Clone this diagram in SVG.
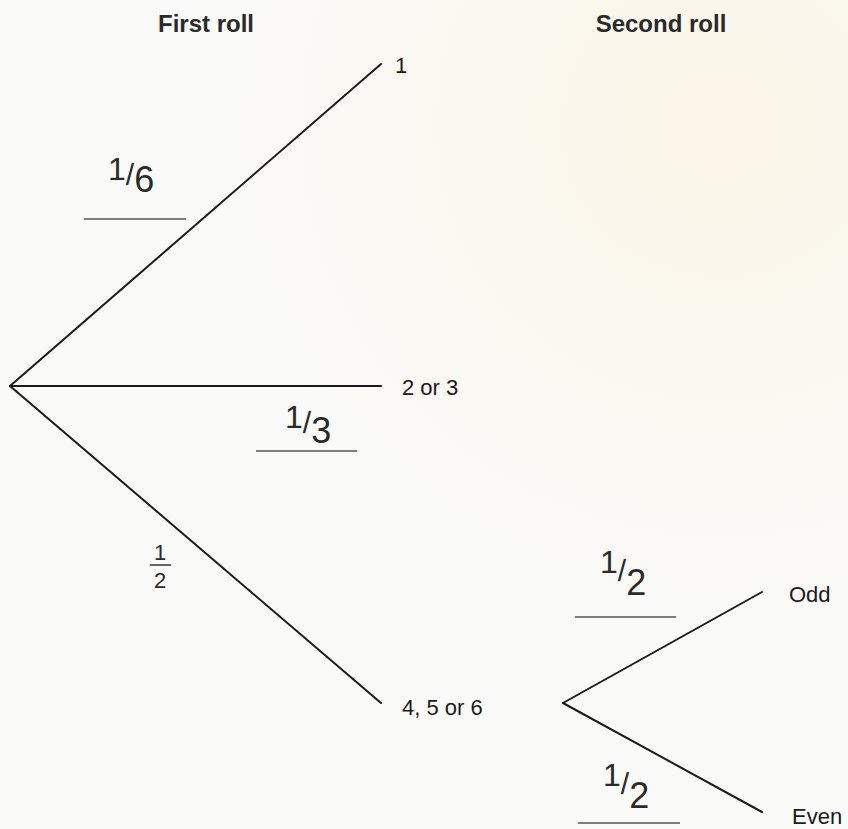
<svg xmlns="http://www.w3.org/2000/svg" width="848" height="829" viewBox="0 0 848 829">
<defs>
<radialGradient id="bg" cx="0.85" cy="0.15" r="0.6">
<stop offset="0" stop-color="#fbf6e8"/>
<stop offset="1" stop-color="#fafaf8"/>
</radialGradient>
<style>
.ln{stroke:#1a1a1a;stroke-width:2;fill:none;stroke-linecap:round}
.bl{stroke:#555;stroke-width:1.6;fill:none}
.hd{font-family:"Liberation Sans",Arial,sans-serif;font-size:24px;font-weight:bold;fill:#2a2a2a;text-anchor:middle}
.lb{font-family:"Liberation Sans",Arial,sans-serif;font-size:22px;fill:#1a1a1a}
.hw{font-family:"Liberation Sans",Arial,sans-serif;font-size:32px;fill:#2a2a2a}
.hw .s{font-size:30px}
.hw .d{font-size:36px}
.fr{font-family:"Liberation Sans",Arial,sans-serif;font-size:22px;fill:#2a2a2a;text-anchor:middle}
</style>
</defs>
<rect width="848" height="829" fill="url(#bg)"/>
<g id="headers">
<text class="hd" x="206" y="32">First roll</text>
<text class="hd" x="661" y="32">Second roll</text>
</g>
<g id="connectors">
<line class="ln" x1="10" y1="386" x2="381" y2="64"/>
<line class="ln" x1="10" y1="386" x2="381" y2="386"/>
<line class="ln" x1="10" y1="386" x2="381" y2="703"/>
<line class="ln" x1="563" y1="703" x2="762" y2="592"/>
<line class="ln" x1="563" y1="703" x2="762" y2="812"/>
</g>
<g id="node-1"><text class="lb" x="395" y="73">1</text></g>
<g id="node-2or3"><text class="lb" x="402" y="395">2 or 3</text></g>
<g id="node-456"><text class="lb" x="402" y="715">4, 5 or 6</text></g>
<g id="node-odd"><text class="lb" x="789" y="602">Odd</text></g>
<g id="node-even"><text class="lb" x="792" y="824">Even</text></g>
<g id="prob-1">
<line class="bl" x1="84" y1="219" x2="186" y2="219"/>
<text class="hw" x="108" y="180">1<tspan class="s" dy="5">/</tspan><tspan class="d" dy="7">6</tspan></text>
</g>
<g id="prob-2">
<line class="bl" x1="256" y1="451" x2="357" y2="451"/>
<text class="hw" x="285" y="428">1<tspan class="s" dy="5">/</tspan><tspan class="d" dy="10">3</tspan></text>
</g>
<g id="prob-3">
<line x1="150" y1="565" x2="171" y2="565" stroke="#2a2a2a" stroke-width="1.4"/>
<text class="fr" x="160" y="560">1</text>
<text class="fr" x="160" y="588">2</text>
</g>
<g id="prob-odd">
<line class="bl" x1="575" y1="617" x2="676" y2="617"/>
<text class="hw" x="600" y="573">1<tspan class="s" dy="8">/</tspan><tspan class="d" dy="14">2</tspan></text>
</g>
<g id="prob-even">
<line class="bl" x1="578" y1="823" x2="680" y2="823"/>
<text class="hw" x="603" y="786">1<tspan class="s" dy="8">/</tspan><tspan class="d" dy="14">2</tspan></text>
</g>
</svg>
